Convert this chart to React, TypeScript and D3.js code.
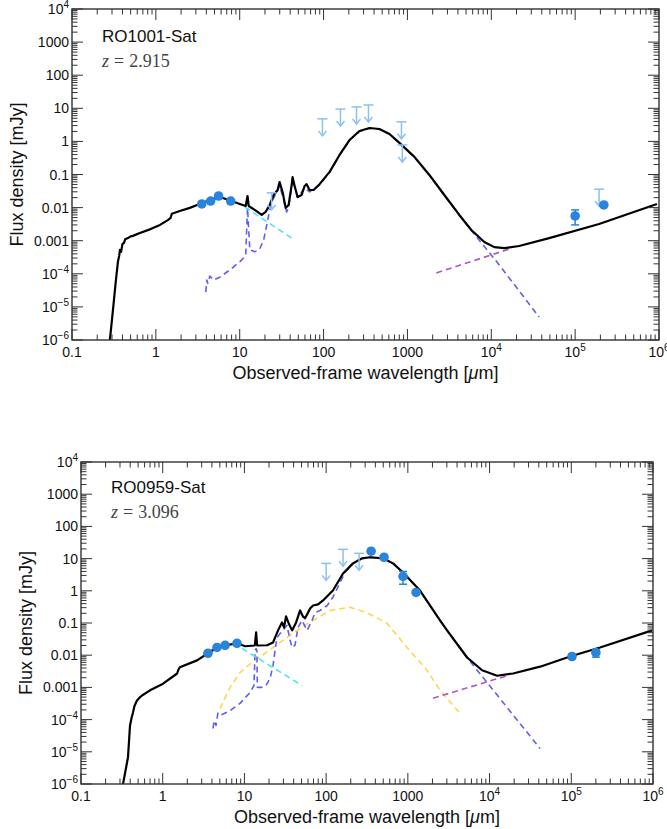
import React from 'react'
import * as d3 from 'd3'

// ---- RO1001-Sat (top panel) ----
const totalLam1 = [0.283, 0.308, 0.334, 0.353, 0.366, 0.373, 0.385, 0.40, 0.416, 0.43, 0.465, 0.50, 0.532, 0.645, 0.85, 1.12, 1.39, 1.50, 1.55, 1.93, 2.54, 3.34, 4.4, 5.8, 8.0, 10, 11.8, 12.4, 12.8, 15.1, 18.3, 20.4, 22.8, 25.4, 28.3, 29.9, 32.5, 35.3, 38.3, 41.6, 42.7, 45.2, 49.0, 54.7, 59.4, 62.8, 68.1, 76, 89.6, 118, 155, 204, 268, 353, 464, 611, 803, 1211, 1827, 2755, 4156, 5780, 8260, 10870, 14300, 21500, 49000, 193000, 946000]
const totalFlux1 = [1e-6, 8.1e-6, 6.5e-5, 2.3e-4, 3.6e-4, 5.3e-4, 4.6e-4, 8.0e-4, 8.5e-4, 1.1e-3, 1.2e-3, 1.35e-3, 1.4e-3, 1.7e-3, 2.2e-3, 3.0e-3, 4.2e-3, 4.9e-3, 6.5e-3, 7.9e-3, 9.8e-3, 0.0129, 0.017, 0.021, 0.0158, 0.0129, 0.0112, 0.0224, 0.0112, 8.5e-3, 6.0e-3, 7.4e-3, 0.012, 0.024, 0.034, 0.059, 0.029, 9.8e-3, 0.012, 0.048, 0.083, 0.045, 0.021, 0.024, 0.045, 0.051, 0.034, 0.034, 0.051, 0.12, 0.39, 1.1, 2.06, 2.54, 2.37, 1.67, 0.9, 0.34, 0.097, 0.024, 6.0e-3, 2.1e-3, 9.1e-4, 6.4e-4, 6.0e-4, 6.9e-4, 1.2e-3, 3.2e-3, 0.0129]
const sfLam1 = [3.94, 4.05, 4.16, 4.4, 4.9, 5.78, 7.6, 10, 11.8, 12.1, 12.4, 12.8, 13.2, 15.1, 17.3, 19.3, 21, 22.8, 24.7, 27.5, 29.9, 32.5, 36.3, 38.3, 42.7, 49, 59.4, 68.1, 89.6, 118, 155, 204, 268, 353, 464, 611, 803, 1211, 1827, 2755, 4156, 5780, 12450, 37200]
const sfFlux1 = [2.8e-5, 6.5e-5, 5.2e-5, 8.5e-5, 6.5e-5, 7.9e-5, 1.3e-4, 2.3e-4, 3.5e-4, 2.1e-3, 9.8e-3, 2.1e-3, 5.3e-4, 4.6e-4, 5.6e-4, 1.05e-3, 3.0e-3, 8.5e-3, 0.017, 0.028, 0.045, 0.022, 7.4e-3, 0.01, 0.07, 0.02, 0.04, 0.03, 0.048, 0.115, 0.38, 1.08, 2.0, 2.5, 2.33, 1.64, 0.88, 0.33, 0.095, 0.0235, 5.9e-3, 2.05e-3, 1.85e-4, 4.95e-6]
const starLam1 = [11.5, 45.2]
const starFlux1 = [0.0104, 1.05e-3]
const radioLam1 = [2213, 17800]
const radioFlux1 = [1.06e-4, 6.0e-4]
const obsLam1 = [3.53, 4.5, 5.6, 7.8, 1e5, 2.2e5]
const obsFlux1 = [0.0129, 0.0158, 0.0224, 0.0158, 5.6e-3, 0.012]
const obsLo1 = [0, 0, 0, 0, 3.0e-3, 0]
const obsHi1 = [0, 0, 0, 0, 8.5e-3, 0]
const limLam1 = [24, 97, 159, 247, 343, 849, 870, 1.93e5]
const limFlux1 = [0.028, 4.8, 9.5, 11, 12.6, 3.9, 0.78, 0.036]

// ---- RO0959-Sat (bottom panel) ----
const totalLam2 = [0.327, 0.376, 0.398, 0.415, 0.433, 0.45, 0.484, 0.52, 0.558, 0.7, 1.01, 1.5, 1.56, 1.62, 2.63, 3.58, 4.62, 5.8, 8.1, 10.2, 13.4, 13.9, 14.3, 18.9, 22.4, 25.8, 28.8, 30.5, 32.3, 35.2, 38.3, 42.9, 48, 52, 55.2, 60, 63.6, 69.2, 79.6, 91.6, 121, 161, 213, 275, 344, 497, 659, 873, 1409, 2477, 3020, 5310, 8100, 12360, 19400, 41500, 96600, 225000, 975000]
const totalFlux2 = [1e-6, 6.8e-6, 6.6e-5, 1.1e-4, 1.66e-4, 2.6e-4, 3.9e-4, 4.8e-4, 5.6e-4, 8.1e-4, 1.3e-3, 2.7e-3, 3.6e-3, 4.2e-3, 6.9e-3, 0.0115, 0.0174, 0.0203, 0.0234, 0.019, 0.02, 0.051, 0.02, 0.0204, 0.025, 0.059, 0.104, 0.073, 0.16, 0.091, 0.059, 0.104, 0.245, 0.16, 0.14, 0.21, 0.28, 0.35, 0.38, 0.5, 1.02, 3.45, 7.1, 10.2, 11, 10.2, 7.1, 3.7, 1.02, 0.12, 0.059, 8.5e-3, 3.4e-3, 2.3e-3, 2.7e-3, 4.4e-3, 9.1e-3, 0.0174, 0.059]
const sfLam2 = [4.13, 4.25, 4.49, 4.75, 5.32, 6.67, 8.84, 11.7, 13.1, 13.5, 13.9, 14.2, 14.4, 16.4, 18.4, 20.6, 22.4, 23.7, 25, 27.3, 29.7, 33.2, 36.2, 38.3, 41.6, 45.3, 50.7, 58.4, 67.2, 73.1, 84.1, 103, 121, 148, 170, 213, 275, 344, 497, 659, 873, 1409, 2477, 3020, 5310, 41500]
const sfFlux2 = [5.3e-5, 9.3e-5, 6.6e-5, 1.66e-4, 1.44e-4, 1.9e-4, 3.2e-4, 6.9e-4, 1.15e-3, 0.0141, 0.016, 0.0141, 1e-3, 1e-3, 1.15e-3, 1.9e-3, 4.8e-3, 0.014, 0.035, 0.047, 0.059, 0.085, 0.029, 0.0174, 0.0204, 0.073, 0.12, 0.059, 0.12, 0.21, 0.245, 0.35, 0.63, 1.8, 3.7, 7.0, 10.1, 10.9, 10.1, 7.0, 3.65, 1.0, 0.118, 0.058, 8.4e-3, 1.26e-5]
const agnLam2 = [5.02, 6.67, 8.84, 12.4, 17.9, 27.3, 44.1, 69.2, 112, 196, 316, 556, 977, 1718, 2477, 4355]
const agnFlux2 = [2.2e-4, 1.0e-3, 2.9e-3, 6.0e-3, 0.0115, 0.025, 0.059, 0.12, 0.245, 0.31, 0.21, 0.098, 0.0174, 3.4e-3, 8.1e-4, 1.55e-4]
const starLam2 = [9.35, 50.7]
const starFlux2 = [0.0162, 1.15e-3]
const radioLam2 = [2030, 16400]
const radioFlux2 = [4.6e-4, 2.3e-3]
const obsLam2 = [3.58, 4.62, 5.8, 8.1, 355, 511, 873, 1260, 1.02e5, 2.0e5]
const obsFlux2 = [0.0115, 0.0174, 0.0203, 0.0234, 17, 11, 2.8, 0.89, 9.1e-3, 0.012]
const obsLo2 = [0, 0, 0, 0, 0, 0, 1.6, 0, 7.8e-3, 8.7e-3]
const obsHi2 = [0, 0, 0, 0, 0, 0, 4.0, 0, 1.06e-2, 0.0146]
const limLam2 = [100, 161, 253]
const limFlux2 = [7.1, 19.4, 14.6]

const xDecades = d3.range(-1, 7)
const yDecades = d3.range(-6, 5)

const COL = {
  total: '#000',
  sf: 'rgb(95,95,240)',
  star: 'rgb(80,228,240)',
  radio: 'rgb(172,88,190)',
  agn: 'rgb(255,214,80)',
  obs: 'rgb(40,132,220)',
  lim: 'rgb(140,192,242)',
  axis: '#333',
}

const SANS = '"Liberation Sans", Arial, sans-serif'
const SERIF = '"Liberation Serif", "DejaVu Serif", serif'

const tickLabel = (e: number) => {
  if (e >= -3 && e <= 3) return <>{String(Math.pow(10, e))}</>
  return (
    <>
      10<tspan dy={-6} fontSize={10}>{e < 0 ? '\u2212' + -e : e}</tspan>
    </>
  )
}

type Comp = { lam: number[]; flux: number[]; color: string; dashed: boolean }

const Panel = (props: any) => {
  const { id, left, top, right, bottom, title, zText, tx, ty, comps, obs, lims } = props
  const x = d3.scaleLog().domain([0.1, 1e6]).range([left, right])
  const y = d3.scaleLog().domain([1e-6, 1e4]).range([bottom, top])
  const line = d3.line<[number, number]>().x(d => x(d[0])).y(d => y(d[1]))

  const xMinor: number[] = []
  xDecades.slice(0, -1).forEach(e => d3.range(2, 10).forEach(m => xMinor.push(m * Math.pow(10, e))))
  const yMinor: number[] = []
  yDecades.slice(0, -1).forEach(e => d3.range(2, 10).forEach(m => yMinor.push(m * Math.pow(10, e))))

  const MAJ = 11
  const MIN = 5.5

  return (
    <g>
      <defs>
        <clipPath id={id}>
          <rect x={left} y={top} width={right - left} height={bottom - top} />
        </clipPath>
      </defs>
      <g clipPath={`url(#${id})`}>
        {comps.map((c: Comp, i: number) => (
          <path
            key={i}
            d={line(d3.zip(c.lam, c.flux) as [number, number][]) || ''}
            fill="none"
            stroke={c.color}
            strokeWidth={c.dashed ? 1.6 : 2.2}
            strokeDasharray={c.dashed ? '6,4' : undefined}
            strokeLinejoin="round"
          />
        ))}
        {lims.lam.map((l: number, i: number) => {
          const cx = x(l)
          const cy = y(lims.flux[i])
          const end = cy + 17
          return (
            <g key={'l' + i} stroke={COL.lim} strokeWidth={1.5} fill="none">
              <line x1={cx - 5} x2={cx + 5} y1={cy} y2={cy} />
              <line x1={cx} x2={cx} y1={cy} y2={end} />
              <path d={`M${cx - 4},${end - 5}L${cx},${end}L${cx + 4},${end - 5}`} />
            </g>
          )
        })}
        {obs.lam.map((l: number, i: number) => {
          const cx = x(l)
          const cy = y(obs.flux[i])
          const lo = obs.lo[i]
          const hi = obs.hi[i]
          return (
            <g key={'o' + i}>
              {lo > 0 && (
                <g stroke={COL.obs} strokeWidth={1.5}>
                  <line x1={cx} x2={cx} y1={y(lo)} y2={y(hi)} />
                  <line x1={cx - 4} x2={cx + 4} y1={y(lo)} y2={y(lo)} />
                  <line x1={cx - 4} x2={cx + 4} y1={y(hi)} y2={y(hi)} />
                </g>
              )}
              <circle cx={cx} cy={cy} r={4.8} fill={COL.obs} />
            </g>
          )
        })}
      </g>

      {/* frame and ticks */}
      <rect x={left} y={top} width={right - left} height={bottom - top} fill="none" stroke={COL.axis} strokeWidth={1.4} />
      <g stroke={COL.axis} strokeWidth={1}>
        {xDecades.map(e => {
          const px = x(Math.pow(10, e))
          return (
            <g key={'xM' + e}>
              <line x1={px} x2={px} y1={bottom} y2={bottom - MAJ} />
              <line x1={px} x2={px} y1={top} y2={top + MAJ} />
            </g>
          )
        })}
        {xMinor.map((v, i) => {
          const px = x(v)
          return (
            <g key={'xm' + i}>
              <line x1={px} x2={px} y1={bottom} y2={bottom - MIN} />
              <line x1={px} x2={px} y1={top} y2={top + MIN} />
            </g>
          )
        })}
        {yDecades.map(e => {
          const py = y(Math.pow(10, e))
          return (
            <g key={'yM' + e}>
              <line x1={left} x2={left + MAJ} y1={py} y2={py} />
              <line x1={right} x2={right - MAJ} y1={py} y2={py} />
            </g>
          )
        })}
        {yMinor.map((v, i) => {
          const py = y(v)
          return (
            <g key={'ym' + i}>
              <line x1={left} x2={left + MIN} y1={py} y2={py} />
              <line x1={right} x2={right - MIN} y1={py} y2={py} />
            </g>
          )
        })}
      </g>

      {/* tick labels */}
      <g fontFamily={SANS} fontSize={14} fill="#111">
        {xDecades.map(e => (
          <text key={'xt' + e} x={x(Math.pow(10, e))} y={bottom + 17} textAnchor="middle">
            {tickLabel(e)}
          </text>
        ))}
        {yDecades.map(e => (
          <text key={'yt' + e} x={left - 3} y={y(Math.pow(10, e)) + 5} textAnchor="end">
            {tickLabel(e)}
          </text>
        ))}
      </g>

      {/* axis labels */}
      <text x={(left + right) / 2} y={bottom + 39} textAnchor="middle" fontFamily={SANS} fontSize={18} fill="#111">
        Observed-frame wavelength [<tspan fontStyle="italic">{'\u03bc'}</tspan>m]
      </text>
      <text
        transform={`translate(${left - 49},${(top + bottom) / 2}) rotate(-90)`}
        textAnchor="middle"
        fontFamily={SANS}
        fontSize={18}
        fill="#111"
      >
        Flux density [mJy]
      </text>

      {/* annotations */}
      <text x={tx} y={ty} fontFamily={SANS} fontSize={17} fill="#111">
        {title}
      </text>
      <text x={tx} y={ty + 25} fontFamily={SERIF} fontSize={18} fill="#444">
        <tspan fontStyle="italic">z</tspan>
        <tspan dx={5}>=</tspan>
        <tspan dx={5}>{zText}</tspan>
      </text>
    </g>
  )
}

const App = () => {
  const comps1: Comp[] = [
    { lam: sfLam1, flux: sfFlux1, color: COL.sf, dashed: true },
    { lam: starLam1, flux: starFlux1, color: COL.star, dashed: true },
    { lam: radioLam1, flux: radioFlux1, color: COL.radio, dashed: true },
    { lam: totalLam1, flux: totalFlux1, color: COL.total, dashed: false },
  ]
  const comps2: Comp[] = [
    { lam: agnLam2, flux: agnFlux2, color: COL.agn, dashed: true },
    { lam: sfLam2, flux: sfFlux2, color: COL.sf, dashed: true },
    { lam: starLam2, flux: starFlux2, color: COL.star, dashed: true },
    { lam: radioLam2, flux: radioFlux2, color: COL.radio, dashed: true },
    { lam: totalLam2, flux: totalFlux2, color: COL.total, dashed: false },
  ]
  return (
    <svg width={667} height={829} style={{ position: 'absolute', left: 0, top: 0, display: 'block' }}>
      <rect width={667} height={829} fill="#fff" />
      <Panel
        id="clip1"
        left={72}
        top={9}
        right={659}
        bottom={340}
        title="RO1001-Sat"
        zText="2.915"
        tx={102}
        ty={42}
        comps={comps1}
        obs={{ lam: obsLam1, flux: obsFlux1, lo: obsLo1, hi: obsHi1 }}
        lims={{ lam: limLam1, flux: limFlux1 }}
      />
      <Panel
        id="clip2"
        left={81}
        top={462}
        right={653}
        bottom={784}
        title="RO0959-Sat"
        zText="3.096"
        tx={111}
        ty={493}
        comps={comps2}
        obs={{ lam: obsLam2, flux: obsFlux2, lo: obsLo2, hi: obsHi2 }}
        lims={{ lam: limLam2, flux: limFlux2 }}
      />
    </svg>
  )
}

export default App
